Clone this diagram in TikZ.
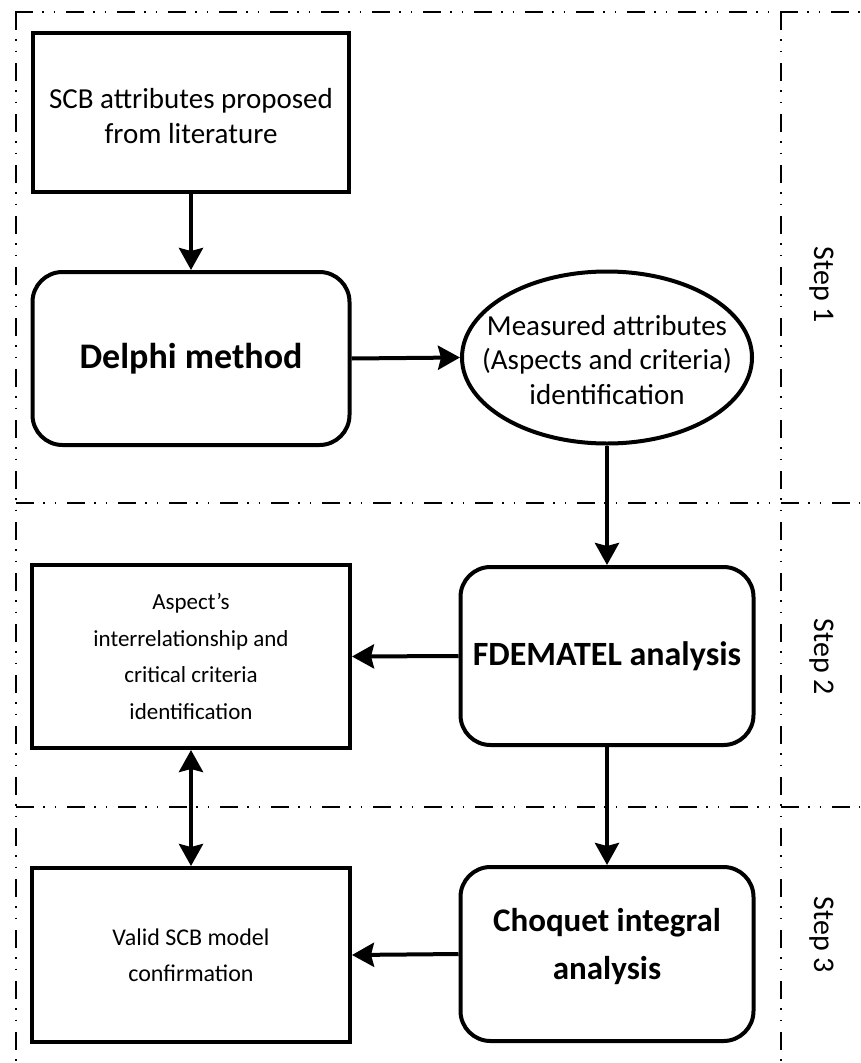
\documentclass[tikz,border=0pt]{standalone}
\usepackage{fontspec}
\setmainfont{Carlito}
\usetikzlibrary{shapes.geometric,arrows.meta}
\begin{document}
\begin{tikzpicture}[x=1pt,y=-1pt,
  sep/.style={line width=1.5pt, dash pattern=on 18pt off 9pt on 1.5pt off 10pt on 1.5pt off 11pt},
  sqbox/.style={draw, line width=4pt, align=center, inner sep=0pt, font=\fontsize{29}{35}\selectfont},
  rndbox/.style={sqbox, rounded corners=30pt},
  ell/.style={draw, ellipse, line width=4pt, inner sep=0pt},
  txt/.style={align=center, inner sep=0pt},
  arr/.style={line width=4pt, -{Stealth[length=22pt,width=24pt,inset=3pt]}},
  darr/.style={line width=4pt, {Stealth[length=22pt,width=24pt,inset=3pt]}-{Stealth[length=22pt,width=24pt,inset=3pt]}},
  steplbl/.style={rotate=-90, font=\fontsize{30}{36}\selectfont}
]
\useasboundingbox (0,0) rectangle (860,1063);
% separators
\coordinate (tl) at (15,12);
\coordinate (tr) at (860,12);
\coordinate (lt) at (16,12);
\coordinate (bl) at (16,1063);
\coordinate (rt) at (781,12);
\coordinate (rb) at (781,1063);
\coordinate (m1l) at (16,503);
\coordinate (m1r) at (860,503);
\coordinate (m2l) at (16,807);
\coordinate (m2r) at (860,807);
\draw[sep] (tl) -- (tr);
\draw[sep] (lt) -- (bl);
\draw[sep] (rt) -- (rb);
\draw[sep] (m1l) -- (m1r);
\draw[sep] (m2l) -- (m2r);

% nodes
\node[sqbox, minimum width=316pt, minimum height=159pt] (lit) at (191,112.5) {};
\node[txt, font=\fontsize{29}{35}\selectfont] (littext) at (191,116) {SCB attributes proposed\\from literature};
\node[rndbox, minimum width=317pt, minimum height=173pt, font=\fontsize{36}{44}\selectfont\bfseries] (delphi) at (191,358.5) {Delphi method};
\node[ell, minimum width=290pt, minimum height=172pt] (meas) at (607,357.5) {};
\node[txt, font=\fontsize{29}{34.5}\selectfont] (meastext) at (607,360) {Measured attributes\\(Aspects and criteria)\\identification};
\node[rndbox, minimum width=293pt, minimum height=178pt, font=\fontsize{34}{44}\selectfont\bfseries] (fd) at (607,656) {FDEMATEL analysis};
\node[sqbox, minimum width=318pt, minimum height=183pt, font=\fontsize{23}{36.5}\selectfont] (asp) at (191,656.5) {Aspect’s\\interrelationship and\\critical criteria\\identification};
\node[sqbox, minimum width=318pt, minimum height=174pt, font=\fontsize{24}{36}\selectfont] (valid) at (191,955) {Valid SCB model\\confirmation};
\node[rndbox, minimum width=293pt, minimum height=174pt] (cho) at (607,954) {};
\node[txt, font=\fontsize{33}{48}\selectfont\bfseries] (chotext) at (607,947) {Choquet integral\\analysis};

% step labels
\node[steplbl] (s1) at (822,285) {Step 1};
\node[steplbl] (s2) at (822,657) {Step 2};
\node[steplbl] (s3) at (822,935) {Step 3};

% connectors
\draw[arr] (lit.south) -- (delphi.north);
\draw[arr] (delphi.east) -- (meas.west);
\draw[arr] (meas.south) -- (fd.north);
\draw[arr] (fd.west) -- (asp.east);
\draw[arr] (fd.south) -- (cho.north);
\draw[arr] (cho.west) -- (valid.east);
\draw[darr] (asp.south) -- (valid.north);
\end{tikzpicture}
\end{document}
